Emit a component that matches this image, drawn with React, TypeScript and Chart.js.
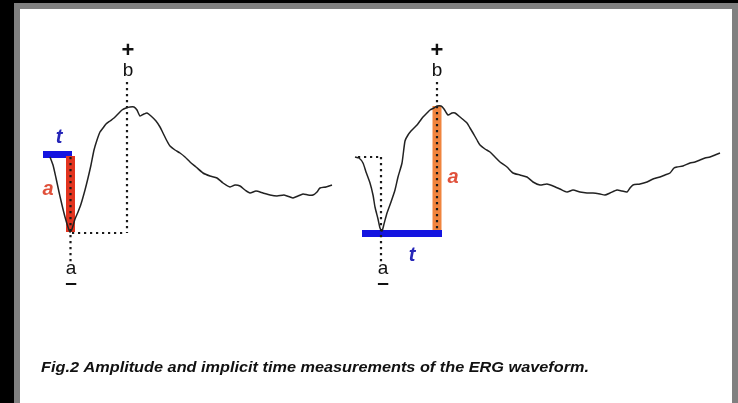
import React, { useEffect, useRef } from "react";
import { Chart, registerables } from "chart.js";

Chart.register(...registerables);

// Figure coordinate space (width x height of the figure)
const FIG_W = 738;
const FIG_H = 403;

// Left ERG waveform (time, amplitude in figure units; y grows downward)
const leftTime = [50, 53, 56, 59, 62, 65, 68, 70, 72, 75, 78, 81, 85, 88, 91, 94, 97, 100, 103, 106, 110, 114, 118, 122, 126, 130, 134, 137, 140, 144, 147, 151, 156, 160, 163, 167, 170, 175, 180, 185, 190, 196, 203, 210, 217, 223, 230, 235, 240, 245, 250, 256, 263, 270, 277, 284, 290, 293, 298, 303, 308, 313, 317, 320, 326, 332];
const leftAmp = [157, 165, 178, 192, 205, 217, 227, 232, 229, 219, 212, 204, 190, 178, 165, 150, 140, 132, 128, 124, 121, 118, 114, 110, 108, 107, 107, 110, 116, 114, 113, 116, 121, 127, 133, 141, 146, 150, 153, 157, 162, 167, 173, 176, 178, 183, 187, 185, 186, 190, 193, 191, 193, 195, 196, 195, 197, 198, 196, 194, 195, 195, 192, 188, 187, 185];

// Right ERG waveform
const rightTime = [355, 359, 363, 366, 370, 373, 375, 378, 380, 382, 384, 387, 391, 395, 398, 402, 405, 408, 411, 414, 417, 420, 423, 427, 430, 434, 437, 441, 444, 448, 452, 455, 460, 467, 470, 473, 477, 480, 485, 490, 495, 500, 507, 513, 520, 527, 533, 540, 547, 553, 560, 567, 573, 580, 587, 593, 600, 605, 610, 617, 622, 627, 630, 633, 640, 647, 653, 660, 665, 670, 674, 677, 683, 690, 695, 700, 705, 710, 715, 720];
const rightAmp = [157, 158, 163, 172, 183, 195, 207, 219, 228, 231, 224, 213, 202, 190, 177, 163, 141, 135, 131, 128, 125, 121, 117, 113, 110, 108, 106, 106, 109, 115, 113, 113, 117, 123, 128, 133, 140, 145, 149, 152, 157, 162, 167, 173, 175, 177, 182, 185, 184, 186, 189, 192, 190, 192, 193, 193, 194, 195, 193, 190, 191, 192, 188, 185, 184, 182, 179, 177, 175, 173, 168, 167, 166, 163, 162, 160, 158, 157, 155, 153];

// Measurement guides: [x1, y1, x2, y2]
const dottedGuides = [
  [70.5, 157, 70.5, 262],
  [72, 233, 126, 233],
  [127, 82, 127, 233],
  [358, 157, 381, 157],
  [381, 157, 381, 262],
  [437, 82, 437, 230],
];

// Measurement bars: [x1, y1, x2, y2, thickness, colour]
const measureBars: [number, number, number, number, number, string][] = [
  [70.5, 156, 70.5, 232, 9, "#e2341f"],
  [43, 154.5, 72, 154.5, 7, "#1414e0"],
  [437, 106, 437, 230, 9, "#f0843e"],
  [362, 233.5, 442, 233.5, 7, "#1414e0"],
];

// Text labels: [text, x, y, font, colour]
const labels: [string, number, number, string, string][] = [
  ["+", 128, 51, "bold 22px 'Liberation Sans'", "#111"],
  ["b", 128, 71, "19px 'Liberation Sans'", "#111"],
  ["a", 71, 269, "19px 'Liberation Sans'", "#111"],
  ["–", 71, 283, "bold 21px 'Liberation Sans'", "#111"],
  ["+", 437, 51, "bold 22px 'Liberation Sans'", "#111"],
  ["b", 437, 71, "19px 'Liberation Sans'", "#111"],
  ["a", 383, 269, "19px 'Liberation Sans'", "#111"],
  ["–", 383, 283, "bold 21px 'Liberation Sans'", "#111"],
  ["a", 48, 189, "bold italic 20px 'Liberation Sans'", "#e0503a"],
  ["t", 59, 137, "bold italic 20px 'Liberation Sans'", "#2626b8"],
  ["a", 453, 177, "bold italic 20px 'Liberation Sans'", "#e0503a"],
  ["t", 412, 255, "bold italic 20px 'Liberation Sans'", "#2626b8"],
];

const caption = "Fig.2 Amplitude and implicit time measurements of the ERG waveform.";

const zip = (xs: number[], ys: number[]) => xs.map((x, i) => ({ x, y: ys[i] }));

export default function App() {
  const ref = useRef<HTMLCanvasElement | null>(null);

  useEffect(() => {
    if (!ref.current) return;
    const datasets: any[] = [];
    measureBars.forEach(([x1, y1, x2, y2, w, c]) => {
      datasets.push({
        data: [{ x: x1, y: y1 }, { x: x2, y: y2 }],
        borderColor: c,
        borderWidth: w,
        borderCapStyle: "butt",
        pointRadius: 0,
        order: 3,
      });
    });
    dottedGuides.forEach(([x1, y1, x2, y2]) => {
      datasets.push({
        data: [{ x: x1, y: y1 }, { x: x2, y: y2 }],
        borderColor: "#1a1a1a",
        borderWidth: 2.2,
        borderDash: [2.2, 3.8],
        borderCapStyle: "butt",
        pointRadius: 0,
        order: 2,
      });
    });
    datasets.push({
      data: zip(leftTime, leftAmp),
      borderColor: "#222",
      borderWidth: 1.5,
      pointRadius: 0,
      tension: 0.2,
      order: 1,
    });
    datasets.push({
      data: zip(rightTime, rightAmp),
      borderColor: "#222",
      borderWidth: 1.5,
      pointRadius: 0,
      tension: 0.2,
      order: 1,
    });

    const textPlugin = {
      id: "figText",
      afterDraw(chart: any) {
        const ctx = chart.ctx;
        const xs = chart.scales.x;
        const ys = chart.scales.y;
        ctx.save();
        ctx.textAlign = "center";
        ctx.textBaseline = "middle";
        labels.forEach(([t, x, y, f, c]) => {
          ctx.font = f;
          ctx.fillStyle = c;
          ctx.fillText(t, xs.getPixelForValue(x), ys.getPixelForValue(y));
        });
        ctx.font = "bold italic 15px 'Liberation Sans'";
        ctx.fillStyle = "#111";
        ctx.textAlign = "left";
        ctx.textBaseline = "alphabetic";
        const cx = xs.getPixelForValue(41);
        const cy = ys.getPixelForValue(372);
        const w = ctx.measureText(caption).width;
        const target = 548;
        ctx.translate(cx, cy);
        ctx.scale(target / w, 1);
        ctx.fillText(caption, 0, 0);
        ctx.restore();
      },
    };

    const chart = new Chart(ref.current, {
      type: "line",
      data: { datasets },
      options: {
        animation: false,
        responsive: false,
        maintainAspectRatio: false,
        layout: { padding: 0 },
        plugins: { legend: { display: false }, tooltip: { enabled: false } },
        scales: {
          x: { type: "linear", min: 0, max: FIG_W, display: false },
          y: { type: "linear", min: 0, max: FIG_H, reverse: true, display: false },
        },
      },
      plugins: [textPlugin],
    });
    return () => chart.destroy();
  }, []);

  return (
    <div style={{ position: "fixed", left: 0, top: 0, width: FIG_W, height: FIG_H, background: "#000", overflow: "hidden" }}>
      <div style={{ position: "absolute", left: 14, top: 3, width: FIG_W - 14, height: FIG_H, background: "#808080" }} />
      <div style={{ position: "absolute", left: 20, top: 9, width: FIG_W - 26, height: FIG_H, background: "#fff" }} />
      <canvas ref={ref} width={FIG_W} height={FIG_H} style={{ position: "absolute", left: 0, top: 0 }} />
    </div>
  );
}
